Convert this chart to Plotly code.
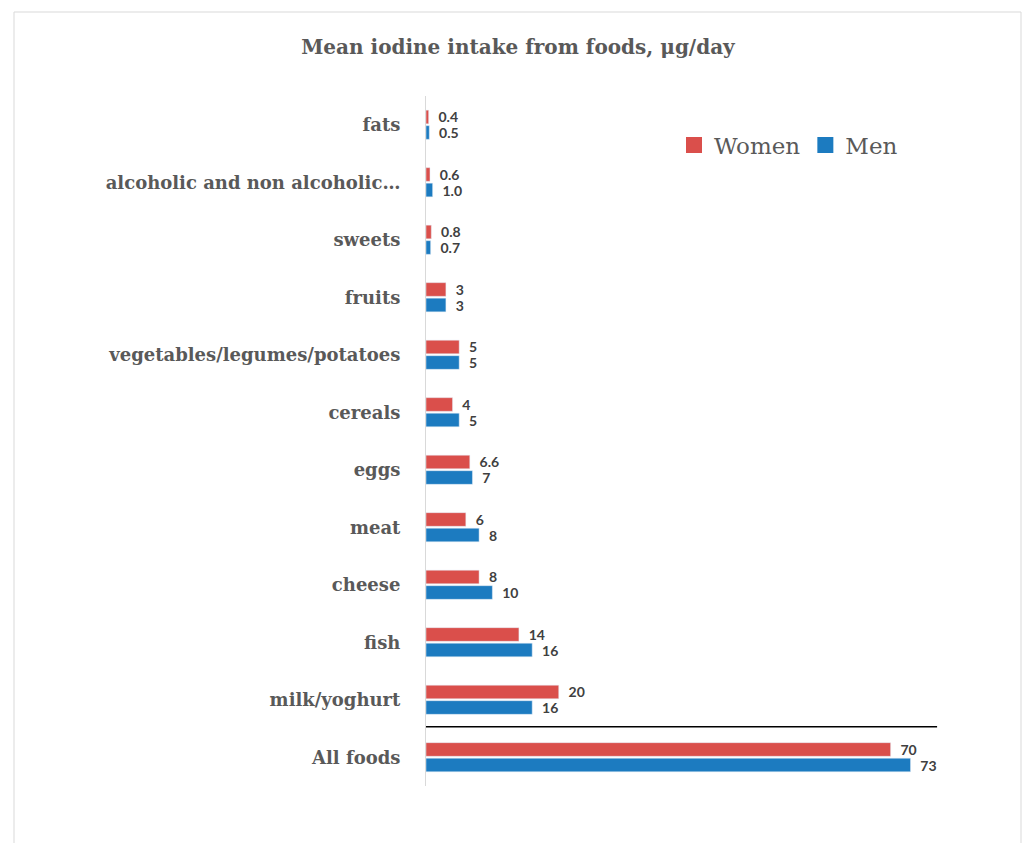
import plotly.graph_objects as go

# Food groups, listed bottom-to-top on the category axis
categories = [
    "All foods", "milk/yoghurt", "fish", "cheese", "meat", "eggs", "cereals",
    "vegetables/legumes/potatoes", "fruits", "sweets",
    "alcoholic and non alcoholic…", "fats",
]
# Mean iodine intake (µg/day) as printed next to each bar
women_labels = ["70", "20", "14", "8", "6", "6.6", "4", "5", "3", "0.8", "0.6", "0.4"]
men_labels = ["73", "16", "16", "10", "8", "7", "5", "5", "3", "0.7", "1.0", "0.5"]

women = [float(s) for s in women_labels]
men = [float(s) for s in men_labels]

RED = "#DA4F4B"
BLUE = "#1C7BC0"
GREY_TEXT = "#595959"
SERIF = "DejaVu Serif"

label_font = dict(family="Lato", size=14, color="#404040", weight=700)

fig = go.Figure()

# Men first so that Women sits on top within each group
for name, vals, labels, color in [("Men", men, men_labels, BLUE),
                                  ("Women", women, women_labels, RED)]:
    fig.add_trace(go.Bar(
        y=categories, x=vals, orientation="h", name=name,
        marker=dict(color=color), text=labels, texttemplate="  %{text}",
        textposition="outside", constraintext="none",
        textfont=label_font, cliponaxis=False, showlegend=False,
    ))

# Legend entries with larger square swatches
for name, color in [("Women", RED), ("Men", BLUE)]:
    fig.add_trace(go.Scatter(
        x=[None], y=[None], mode="markers", name=name,
        marker=dict(symbol="square", size=18, color=color),
    ))

W, H = 1023, 843
L, R, T, B = 426, 66, 96, 57
pw, ph = W - L - R, H - T - B

# Separator line between the food groups and the total
fig.add_shape(type="line", xref="x", yref="y", x0=-0.6, x1=77, y0=0.53, y1=0.53,
              line=dict(color="black", width=1.5))

# Outer frame of the chart area
fig.add_shape(type="rect", xref="paper", yref="paper",
              x0=(14 - L) / pw, x1=(1021 - L) / pw,
              y0=(H - B - 860) / ph, y1=(H - B - 12) / ph,
              line=dict(color="#d9d9d9", width=1), layer="below")

fig.update_layout(
    width=W, height=H,
    margin=dict(l=L, r=R, t=T, b=B),
    paper_bgcolor="white", plot_bgcolor="white",
    barmode="group", bargap=0.46, bargroupgap=0.12,
    title=dict(
        text="<b>Mean iodine intake from foods, μg/day</b>",
        font=dict(family=SERIF, size=20, color=GREY_TEXT),
        xref="container", x=518 / W, xanchor="center",
        yref="container", y=1 - 47 / H, yanchor="middle",
    ),
    legend=dict(
        orientation="h", x=(674 - L) / pw, y=(H - B - 145) / ph,
        xanchor="left", yanchor="middle",
        font=dict(family=SERIF, size=23, color=GREY_TEXT),
        bgcolor="rgba(0,0,0,0)", itemwidth=30, tracegroupgap=0,
    ),
    xaxis=dict(range=[0, 80], visible=False, fixedrange=True),
    yaxis=dict(
        type="category", categoryorder="array", categoryarray=categories,
        showline=True, linecolor="#d9d9d9", linewidth=1,
        showgrid=False, ticks="", ticklabelstandoff=21,
        tickfont=dict(family=SERIF, size=18, color=GREY_TEXT, weight=700),
    ),
    showlegend=True,
)

fig.write_html("out.html")
